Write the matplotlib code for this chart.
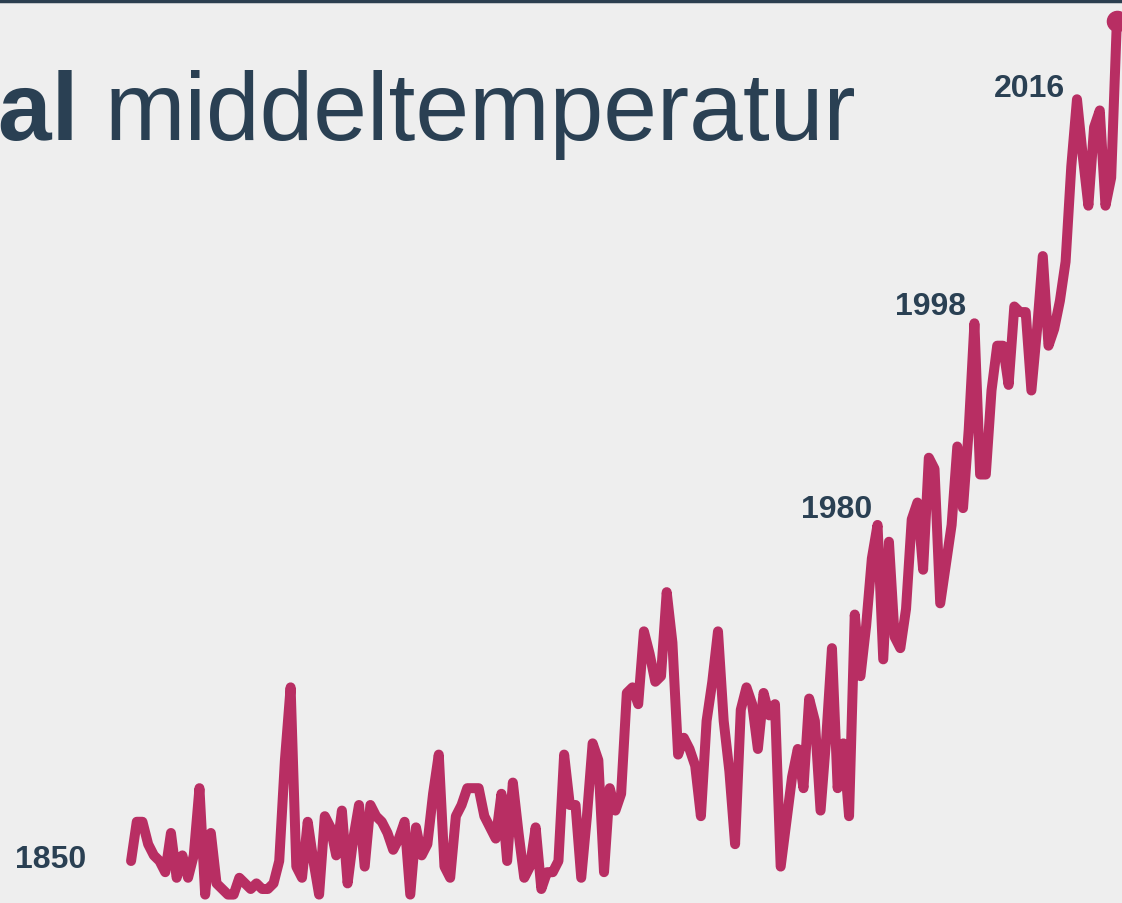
import matplotlib
matplotlib.use('Agg')
import matplotlib.pyplot as plt
from matplotlib.lines import Line2D

# global mean temperature anomaly (deg C)
years = list(range(1850, 2024))
anomaly = [
    -0.42, -0.35, -0.35, -0.39, -0.41, -0.42, -0.44, -0.37, -0.45, -0.41,  # 1850s
    -0.45, -0.41, -0.29, -0.48, -0.37, -0.46, -0.47, -0.48, -0.48, -0.45,  # 1860s
    -0.46, -0.47, -0.46, -0.47, -0.47, -0.46, -0.42, -0.24, -0.11, -0.43,  # 1870s
    -0.45, -0.35, -0.42, -0.48, -0.34, -0.36, -0.41, -0.33, -0.46, -0.38,  # 1880s
    -0.32, -0.43, -0.32, -0.34, -0.35, -0.37, -0.40, -0.38, -0.35, -0.48,  # 1890s
    -0.36, -0.41, -0.39, -0.30, -0.23, -0.43, -0.45, -0.34, -0.32, -0.29,  # 1900s
    -0.29, -0.29, -0.34, -0.36, -0.38, -0.30, -0.42, -0.28, -0.37, -0.45,  # 1910s
    -0.43, -0.36, -0.47, -0.44, -0.44, -0.42, -0.23, -0.32, -0.32, -0.45,  # 1920s
    -0.34, -0.21, -0.24, -0.44, -0.29, -0.33, -0.30, -0.12, -0.11, -0.14,  # 1930s
    -0.01, -0.05, -0.10, -0.09, 0.06, -0.03, -0.23, -0.20, -0.22, -0.25,   # 1940s
    -0.34, -0.17, -0.10, -0.01, -0.17, -0.26, -0.39, -0.15, -0.11, -0.14,  # 1950s
    -0.22, -0.12, -0.16, -0.14, -0.43, -0.35, -0.27, -0.22, -0.29, -0.13,  # 1960s
    -0.17, -0.33, -0.20, -0.04, -0.29, -0.21, -0.34, 0.02, -0.09, 0.00,    # 1970s
    0.12, 0.18, -0.06, 0.15, -0.02, -0.04, 0.03, 0.19, 0.22, 0.10,         # 1980s
    0.30, 0.28, 0.04, 0.11, 0.18, 0.32, 0.21, 0.35, 0.54, 0.27,            # 1990s
    0.27, 0.42, 0.50, 0.50, 0.43, 0.57, 0.56, 0.56, 0.42, 0.53,            # 2000s
    0.66, 0.50, 0.53, 0.58, 0.65, 0.82, 0.94, 0.84, 0.75, 0.89,            # 2010s
    0.92, 0.75, 0.80, 1.08,                                                # 2020s
]

label_years = [1850, 1980, 1998, 2016]
label_offsets = [(-45, 2), (0, 50), (-8, 17), (-12, 11)]  # pixels

LINE = '#b82e63'
INK = '#2a4053'
BG = '#eeeeee'

plt.rcParams['font.family'] = ['Liberation Sans', 'DejaVu Sans']

fig = plt.figure(figsize=(11.22, 9.04), dpi=100, facecolor=BG)
ax = fig.add_axes([0, 0, 1, 1])
ax.set_facecolor(BG)
ax.axis('off')

ax.plot(years, anomaly, color=LINE, lw=7.2, solid_joinstyle='round',
        solid_capstyle='round', clip_on=False, zorder=3)
ax.plot(years[-1], anomaly[-1], 'o', ms=14.5, color=LINE, mec=LINE,
        clip_on=False, zorder=4)

ax.set_xlim(1827.0, 2023.9)
ax.set_ylim(-0.495, 1.119)

for yr, (dx, dy) in zip(label_years, label_offsets):
    val = anomaly[years.index(yr)]
    ax.annotate(str(yr), xy=(yr, val), xytext=(dx, dy),
                textcoords='offset pixels', ha='right', va='center',
                fontsize=23, fontweight='bold', color=INK)

# title, cut off at the left edge like the original
fig.text(79 / 1122, 1 - 140 / 904, 'Global', ha='right', va='baseline',
         fontsize=69.5, fontweight='bold', color=INK)
fig.text(105 / 1122, 1 - 140 / 904, 'middeltemperatur', ha='left',
         va='baseline', fontsize=69.5, color=INK)

# dark rule along the top
fig.add_artist(Line2D([0, 1], [1 - 1.5 / 904, 1 - 1.5 / 904],
                      transform=fig.transFigure, color='#2b3e4f', lw=2.5))

plt.savefig('out.png', dpi=100, facecolor=BG)
